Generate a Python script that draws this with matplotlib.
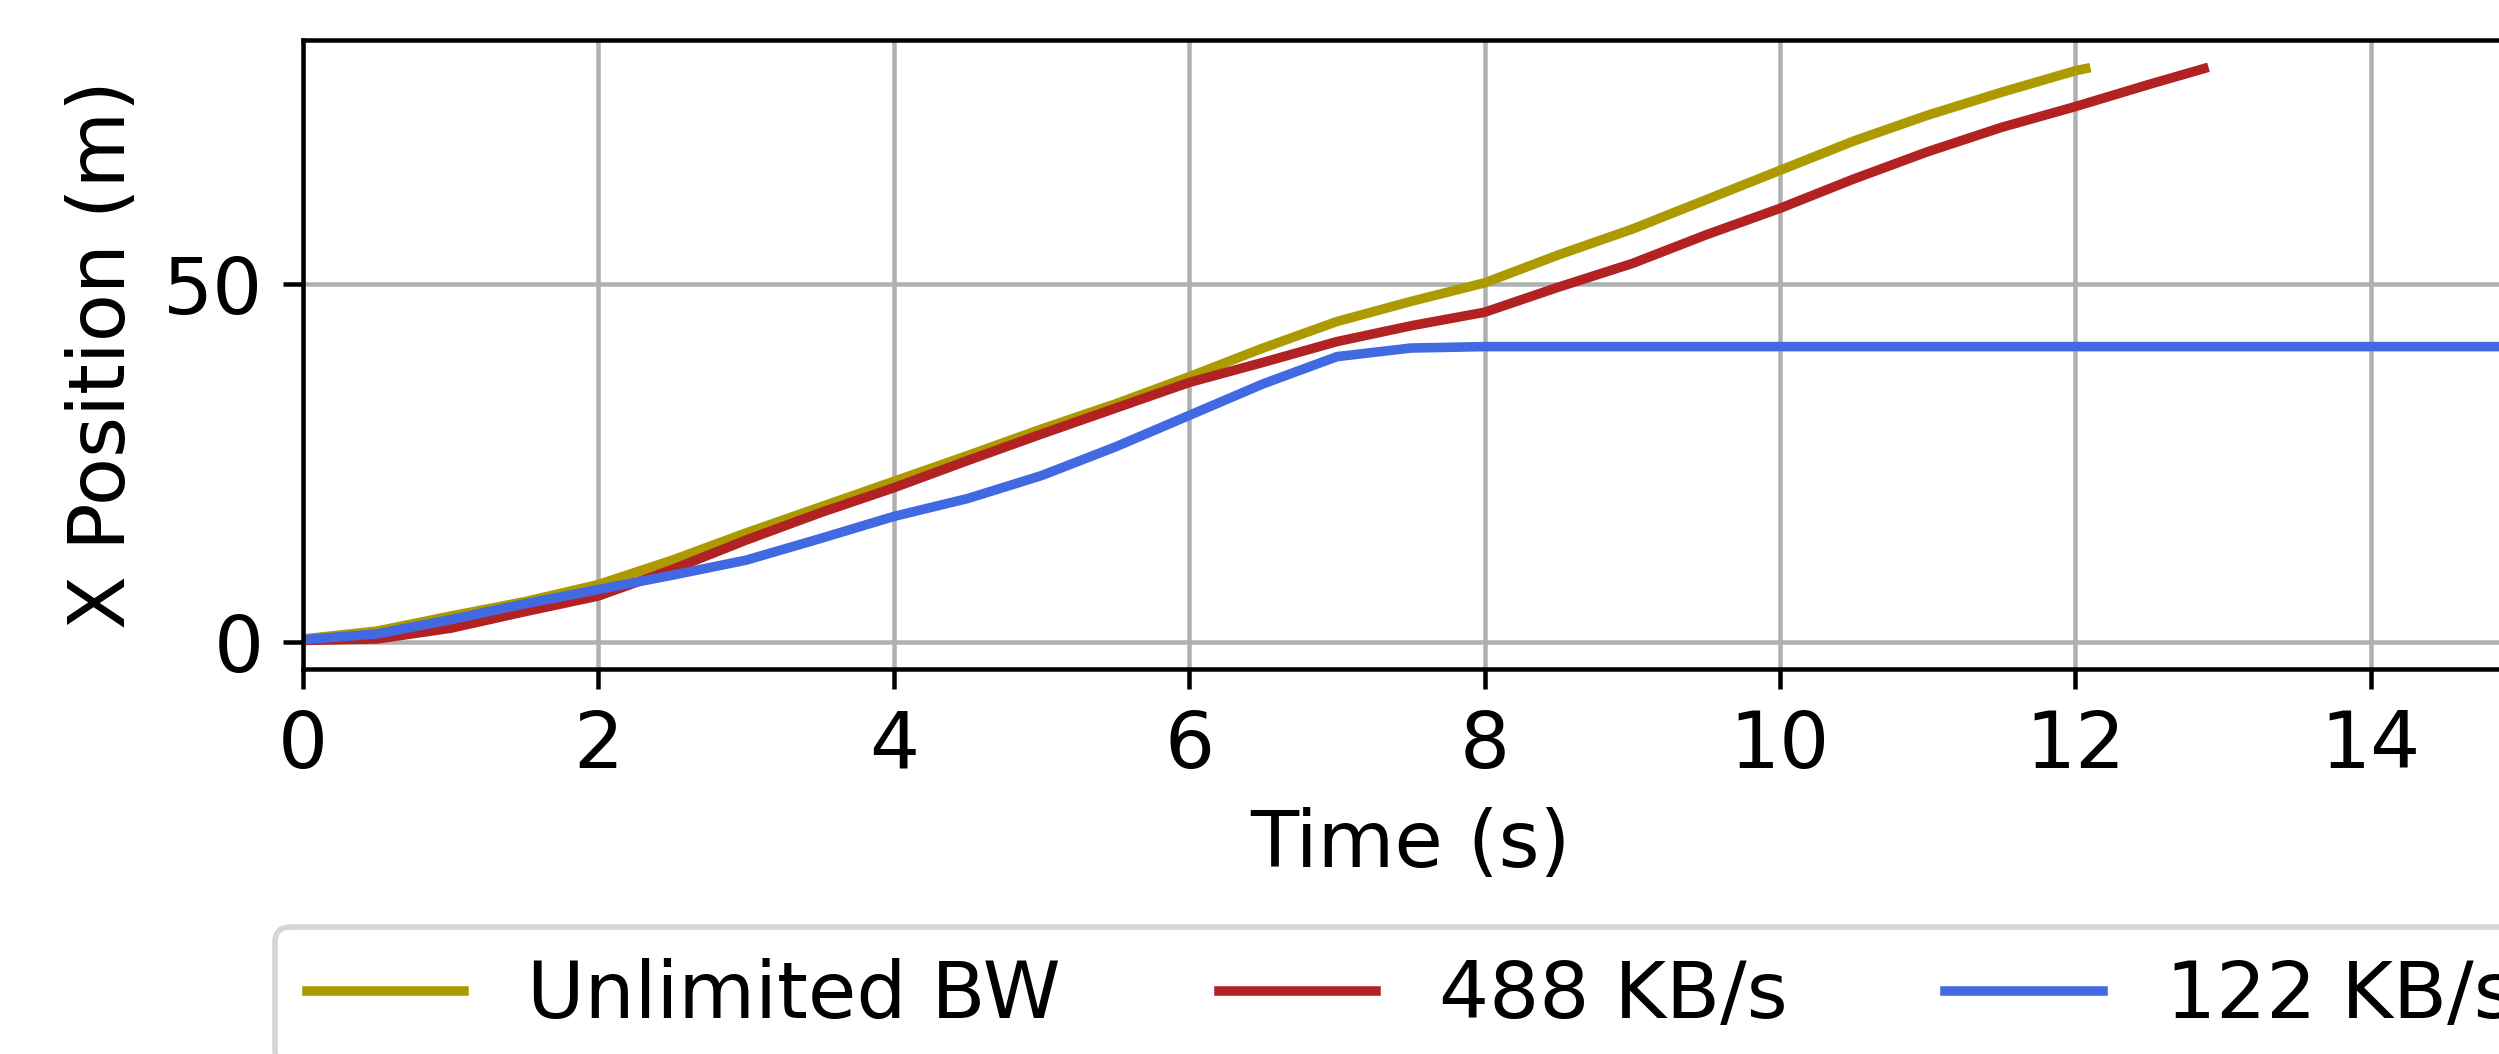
import matplotlib
matplotlib.use("Agg")
import matplotlib.pyplot as plt

# time (s) and x position (m) of each run
t_unlimited = [0, 0.5, 1, 1.5, 2, 2.5, 3, 3.5, 4, 4.5, 5, 5.5, 6, 6.5, 7, 7.5, 8,
               8.5, 9, 9.5, 10, 10.5, 11, 11.5, 12, 12.07]
x_unlimited = [0.4, 1.5, 3.6, 5.6, 8.0, 11.4, 15.2, 18.8, 22.4, 26.0, 29.7, 33.2, 37.0,
               41.0, 44.7, 47.5, 50.1, 54.0, 57.6, 61.7, 65.8, 69.9, 73.5, 76.7, 79.7, 80.0]

t_488 = [0, 0.5, 1, 1.5, 2, 2.5, 3, 3.5, 4, 4.5, 5, 5.5, 6, 6.5, 7, 7.5, 8,
         8.5, 9, 9.5, 10, 10.5, 11, 11.5, 12, 12.5, 12.87]
x_488 = [0.2, 0.4, 1.9, 4.2, 6.4, 10.1, 14.2, 18.0, 21.5, 25.3, 29.0, 32.6, 36.2,
         39.0, 41.9, 44.1, 46.0, 49.5, 52.8, 56.8, 60.5, 64.6, 68.4, 71.8, 74.7, 77.8, 80.0]

t_122 = [0, 0.5, 1, 1.5, 2, 2.5, 3, 3.5, 4, 4.5, 5, 5.5, 6, 6.5, 7, 7.5, 8,
         9, 10, 11, 12, 13, 14, 15]
x_122 = [0.3, 1.1, 3.1, 5.3, 7.3, 9.3, 11.4, 14.4, 17.5, 20.0, 23.2, 27.2, 31.6,
         36.0, 39.8, 41.0, 41.2, 41.2, 41.2, 41.2, 41.2, 41.2, 41.2, 41.2]

labels = ["Unlimited BW", "488 KB/s", "122 KB/s"]
colors = ["#ad9a00", "firebrick", "royalblue"]

plt.rcParams["font.size"] = 14

fig = plt.figure(figsize=(2499 / 405, 1054 / 405), dpi=405)
ax = fig.add_axes([303 / 2499, 385 / 1054, 2215.5 / 2499, 629 / 1054])

ax.plot(t_unlimited, x_unlimited, color=colors[0], lw=1.7, label=labels[0])
ax.plot(t_488, x_488, color=colors[1], lw=1.7, label=labels[1])
ax.plot(t_122, x_122, color=colors[2], lw=1.7, label=labels[2])

ax.set_xlim(0, 15)
ax.set_xticks(range(0, 15, 2))
ax.set_yticks([0, 50])
ax.set_xlabel("Time (s)")
ax.set_ylabel("X Position (m)")
ax.grid(True)
ax.legend(loc="upper center", bbox_to_anchor=(0.5, -0.347), ncol=3)

fig.savefig("out.png", dpi=405)
